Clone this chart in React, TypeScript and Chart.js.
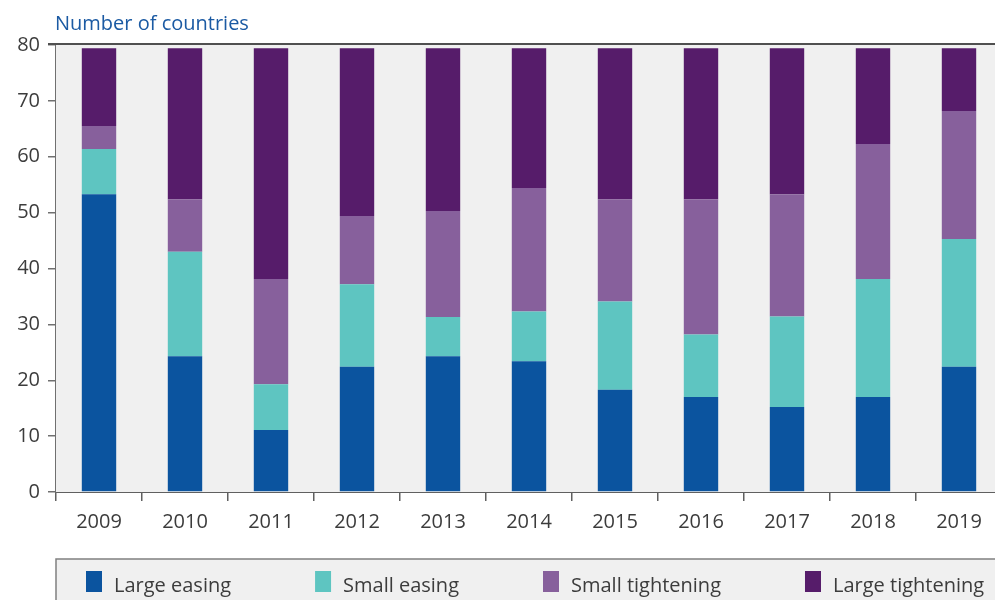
import { useEffect, useRef } from "react";
import { Chart, registerables } from "chart.js";

Chart.register(...registerables);

const years = ["2009", "2010", "2011", "2012", "2013", "2014", "2015", "2016", "2017", "2018", "2019"];
const largeEasing = [53.3, 24.3, 11.1, 22.4, 24.3, 23.4, 18.3, 17.0, 15.2, 17.0, 22.4];
const smallEasing = [8.1, 18.7, 8.2, 14.8, 7.0, 8.9, 15.8, 11.2, 16.2, 21.1, 22.9];
const smallTightening = [4.1, 9.4, 18.8, 12.2, 19.0, 22.1, 18.3, 24.2, 21.9, 24.2, 22.9];
const largeTightening = [13.9, 27.0, 41.3, 30.0, 29.1, 25.0, 27.0, 27.0, 26.1, 17.1, 11.2];
const seriesLabels = ["Large easing", "Small easing", "Small tightening", "Large tightening"];
const seriesColors = ["#0b549f", "#5ec5c1", "#87609c", "#561c6a"];
const yTicks = [0, 10, 20, 30, 40, 50, 60, 70, 80];
const titleText = "Number of countries";

const FONT = "'Open Sans', sans-serif";
const TEXT = "#3c3c3c";

const decorPlugin = {
  id: "decor",
  beforeDatasetsDraw(chart: any) {
    const { ctx, chartArea } = chart;
    ctx.save();
    ctx.fillStyle = "#f0f0f0";
    ctx.fillRect(chartArea.left, chartArea.top, chartArea.right - chartArea.left, chartArea.bottom - chartArea.top);
    ctx.restore();
  },
  afterDraw(chart: any) {
    const { ctx, chartArea } = chart;
    ctx.save();
    // top border
    ctx.strokeStyle = "#505050";
    ctx.lineWidth = 2;
    ctx.beginPath();
    ctx.moveTo(chartArea.left - 8, chartArea.top - 1);
    ctx.lineTo(chartArea.right, chartArea.top - 1);
    ctx.stroke();
    // title
    ctx.fillStyle = "#1b5aa3";
    ctx.font = "20px " + FONT;
    ctx.textBaseline = "alphabetic";
    ctx.textAlign = "left";
    ctx.fillText(titleText, chartArea.left - 1, 29.5);
    // legend box
    const boxTop = 559;
    const boxLeft = chartArea.left;
    ctx.fillStyle = "#f0f0f0";
    ctx.fillRect(boxLeft, boxTop, chart.width - boxLeft, chart.height - boxTop);
    ctx.strokeStyle = "#808080";
    ctx.lineWidth = 1.5;
    ctx.beginPath();
    ctx.moveTo(boxLeft, chart.height);
    ctx.lineTo(boxLeft, boxTop);
    ctx.lineTo(chart.width, boxTop);
    ctx.stroke();
    // legend items
    ctx.font = "20px " + FONT;
    ctx.textBaseline = "alphabetic";
    let x = boxLeft + 30;
    chart.data.datasets.forEach((ds: any) => {
      ctx.fillStyle = ds.backgroundColor;
      ctx.fillRect(x, 571, 16, 21);
      ctx.fillStyle = TEXT;
      ctx.fillText(ds.label, x + 28, 591.5);
      const w = ctx.measureText(ds.label).width;
      x = x + 28 + w + 84;
    });
    ctx.restore();
  },
};

export default function App() {
  const ref = useRef<HTMLCanvasElement | null>(null);
  useEffect(() => {
    if (!ref.current) return;
    const seriesData = [largeEasing, smallEasing, smallTightening, largeTightening];
    const chart = new Chart(ref.current, {
      type: "bar",
      data: {
        labels: years,
        datasets: seriesData.map((d, i) => ({
          label: seriesLabels[i],
          data: d,
          backgroundColor: seriesColors[i],
          borderWidth: 0,
          categoryPercentage: 1,
          barPercentage: 0.4,
        })),
      },
      options: {
        responsive: false,
        animation: false,
        devicePixelRatio: 1,
        layout: { padding: { top: 45, bottom: 58, left: 0, right: 0 } },
        plugins: { legend: { display: false }, tooltip: { enabled: false }, title: { display: false } },
        scales: {
          x: {
            stacked: true,
            offset: true,
            grid: { offset: true, drawOnChartArea: false, drawTicks: true, tickLength: 9, color: "#606060", lineWidth: 1.5 },
            border: { display: true, color: "#606060", width: 2 },
            ticks: { color: TEXT, font: { family: FONT, size: 20 }, padding: 9, maxRotation: 0, autoSkip: false },
            afterFit: (s: any) => { s.height = 50; },
          },
          y: {
            stacked: true,
            min: 0,
            max: 80,
            afterBuildTicks: (s: any) => { s.ticks = yTicks.map((v) => ({ value: v })); },
            grid: { drawOnChartArea: false, drawTicks: true, tickLength: 8, color: "#707070", lineWidth: 1.5 },
            border: { display: true, color: "#707070", width: 1.5 },
            ticks: { color: TEXT, font: { family: FONT, size: 20 }, padding: 8 },
            afterFit: (s: any) => { s.width = 56; },
          },
        },
      },
      plugins: [decorPlugin],
    });
    return () => chart.destroy();
  }, []);
  return (
    <div style={{ position: "absolute", left: 0, top: 0, width: 995, height: 600, overflow: "hidden", background: "#fff" }}>
      <canvas ref={ref} width={1002} height={600} style={{ display: "block", width: 1002, height: 600 }} />
    </div>
  );
}
